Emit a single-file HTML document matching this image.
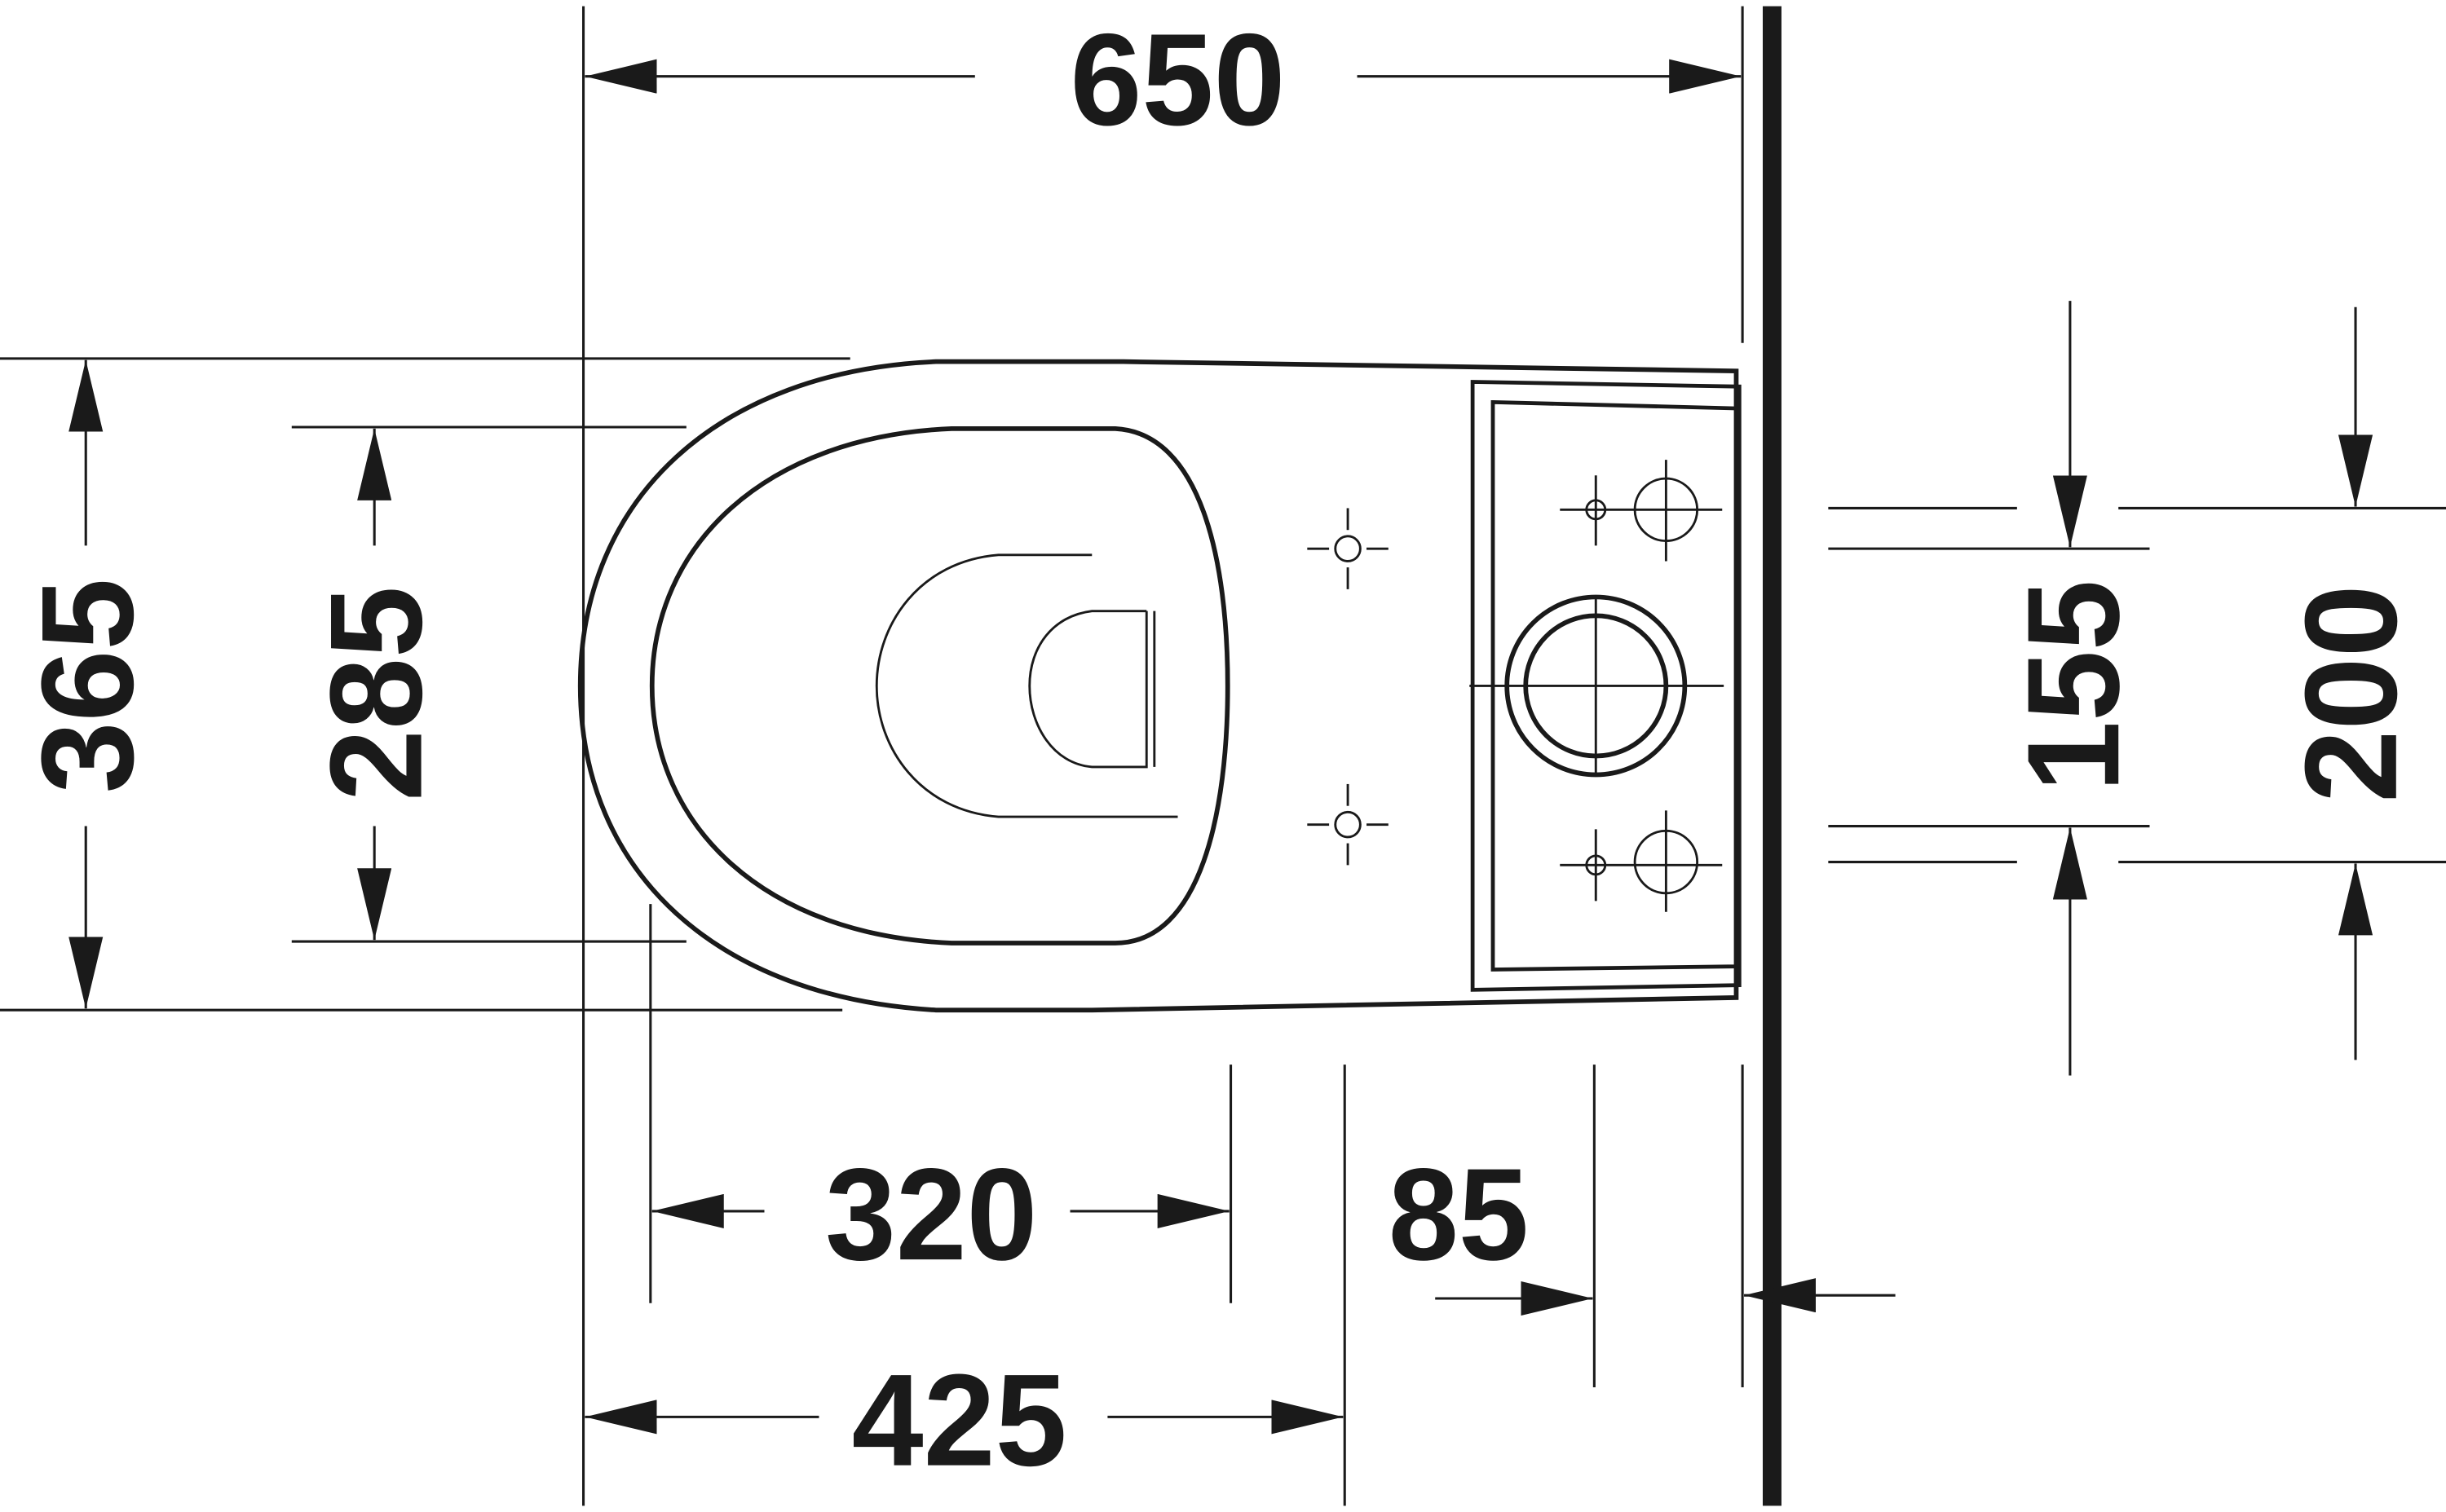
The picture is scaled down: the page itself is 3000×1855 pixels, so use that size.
<!DOCTYPE html>
<html><head><meta charset="utf-8"><style>html,body{margin:0;padding:0;background:#fff}svg{display:block}</style></head>
<body>
<svg width="3000" height="1855" viewBox="0 0 1568 970" preserveAspectRatio="none" xmlns="http://www.w3.org/2000/svg">
<defs>
<marker id="a" viewBox="0 0 46 22" refX="46" refY="11" markerWidth="46" markerHeight="22" markerUnits="userSpaceOnUse" orient="auto"><path d="M0,0 L46,11 L0,22 z" fill="#1a1a1a"/></marker>
</defs>
<g stroke="#1a1a1a" stroke-width="1.6" fill="none">
<line x1="1136" y1="4" x2="1136" y2="966" stroke-width="12"/>
<line x1="374" y1="4" x2="374" y2="365"/><line x1="1117" y1="4" x2="1117" y2="220"/>
<line x1="625" y1="49" x2="375" y2="49" marker-end="url(#a)"/><line x1="870" y1="49" x2="1116" y2="49" marker-end="url(#a)"/>
<line x1="0" y1="230" x2="545" y2="230"/><line x1="0" y1="648" x2="540" y2="648"/>
<line x1="55" y1="350" x2="55" y2="231" marker-end="url(#a)"/><line x1="55" y1="530" x2="55" y2="647" marker-end="url(#a)"/>
<line x1="187" y1="274" x2="440" y2="274"/><line x1="187" y1="604" x2="440" y2="604"/>
<line x1="240" y1="350" x2="240" y2="275" marker-end="url(#a)"/><line x1="240" y1="530" x2="240" y2="603" marker-end="url(#a)"/>
<line x1="417" y1="580" x2="417" y2="836"/><line x1="789" y1="683" x2="789" y2="836"/>
<line x1="490" y1="777" x2="418" y2="777" marker-end="url(#a)"/><line x1="686" y1="777" x2="788" y2="777" marker-end="url(#a)"/>
<line x1="374" y1="365" x2="374" y2="966"/><line x1="862" y1="683" x2="862" y2="966"/>
<line x1="525" y1="909" x2="375" y2="909" marker-end="url(#a)"/><line x1="710" y1="909" x2="861" y2="909" marker-end="url(#a)"/>
<line x1="1022" y1="683" x2="1022" y2="890"/><line x1="1117" y1="683" x2="1117" y2="890"/>
<line x1="920" y1="833" x2="1021" y2="833" marker-end="url(#a)"/><line x1="1215" y1="831" x2="1118" y2="831" marker-end="url(#a)"/>
<line x1="1172" y1="326" x2="1293" y2="326"/><line x1="1172" y1="352" x2="1378" y2="352"/>
<line x1="1172" y1="530" x2="1378" y2="530"/><line x1="1172" y1="553" x2="1293" y2="553"/>
<line x1="1327" y1="193" x2="1327" y2="351" marker-end="url(#a)"/><line x1="1327" y1="690" x2="1327" y2="531" marker-end="url(#a)"/>
<line x1="1358" y1="326" x2="1568" y2="326"/><line x1="1358" y1="553" x2="1568" y2="553"/>
<line x1="1510" y1="197" x2="1510" y2="325" marker-end="url(#a)"/><line x1="1510" y1="680" x2="1510" y2="554" marker-end="url(#a)"/>
</g>
<g stroke="#1a1a1a" fill="none">
<path d="M1113,238 L1113,640 L700,648 L600,648 C460,640 372,560 372,440 C372,320 460,238 600,232 L720,232 Z" stroke-width="3"/>
<path d="M944,245 L1115,248 L1115,632 L944,635 Z" stroke-width="2.5"/>
<path d="M957,258 L1113,262 L1113,620 L957,622 Z" stroke-width="2.5"/>
<path d="M715,275 C770,278 787,360 787,440 C787,520 770,605 715,605 L610,605 C490,600 418,530 418,440 C418,350 490,280 610,275 Z" stroke-width="3"/>
<path d="M700,356 L640,356 C590,360 562,400 562,440 C562,480 590,520 640,524 L755,524" stroke-width="1.5"/>
<path d="M735,392 L700,392 C675,395 660,415 660,440 C660,465 675,490 700,492 L735,492 L735,392" stroke-width="1.5"/>
<line x1="740" y1="392" x2="740" y2="492" stroke-width="1.5"/>
<g stroke-width="1.5">
<circle cx="864" cy="352" r="8"/><line x1="838" y1="352" x2="852" y2="352"/><line x1="876" y1="352" x2="890" y2="352"/><line x1="864" y1="326" x2="864" y2="340"/><line x1="864" y1="364" x2="864" y2="378"/>
<circle cx="864" cy="529" r="8"/><line x1="838" y1="529" x2="852" y2="529"/><line x1="876" y1="529" x2="890" y2="529"/><line x1="864" y1="503" x2="864" y2="517"/><line x1="864" y1="541" x2="864" y2="555"/>
<circle cx="1023" cy="327" r="6"/><line x1="1000" y1="327" x2="1104" y2="327"/><line x1="1023" y1="305" x2="1023" y2="350"/>
<circle cx="1068" cy="327" r="20"/><line x1="1068" y1="295" x2="1068" y2="360"/>
<circle cx="1023" cy="555" r="6"/><line x1="1000" y1="555" x2="1104" y2="555"/><line x1="1023" y1="532" x2="1023" y2="578"/>
<circle cx="1068" cy="553" r="20"/><line x1="1068" y1="520" x2="1068" y2="585"/>
<line x1="942" y1="440" x2="1105" y2="440"/><line x1="1023" y1="382" x2="1023" y2="498"/>
</g>
<circle cx="1023" cy="440" r="57" stroke-width="3"/><circle cx="1023" cy="440" r="45" stroke-width="3"/>
</g>
<g font-family="Liberation Sans, sans-serif" font-weight="bold" fill="#1a1a1a" font-size="84" text-anchor="middle">
<text x="755" y="80" textLength="138" lengthAdjust="spacingAndGlyphs">650</text>
<text x="597" y="808" textLength="136" lengthAdjust="spacingAndGlyphs">320</text>
<text x="615" y="940" textLength="138" lengthAdjust="spacingAndGlyphs">425</text>
<text x="935" y="808" textLength="90" lengthAdjust="spacingAndGlyphs">85</text>
<text transform="translate(85,440) rotate(-90)" textLength="138" lengthAdjust="spacingAndGlyphs">365</text>
<text transform="translate(270,445) rotate(-90)" textLength="138" lengthAdjust="spacingAndGlyphs">285</text>
<text transform="translate(1358,440) rotate(-90)" textLength="136" lengthAdjust="spacingAndGlyphs">155</text>
<text transform="translate(1536,445) rotate(-90)" textLength="140" lengthAdjust="spacingAndGlyphs">200</text>
</g>
</svg>
</body></html>
